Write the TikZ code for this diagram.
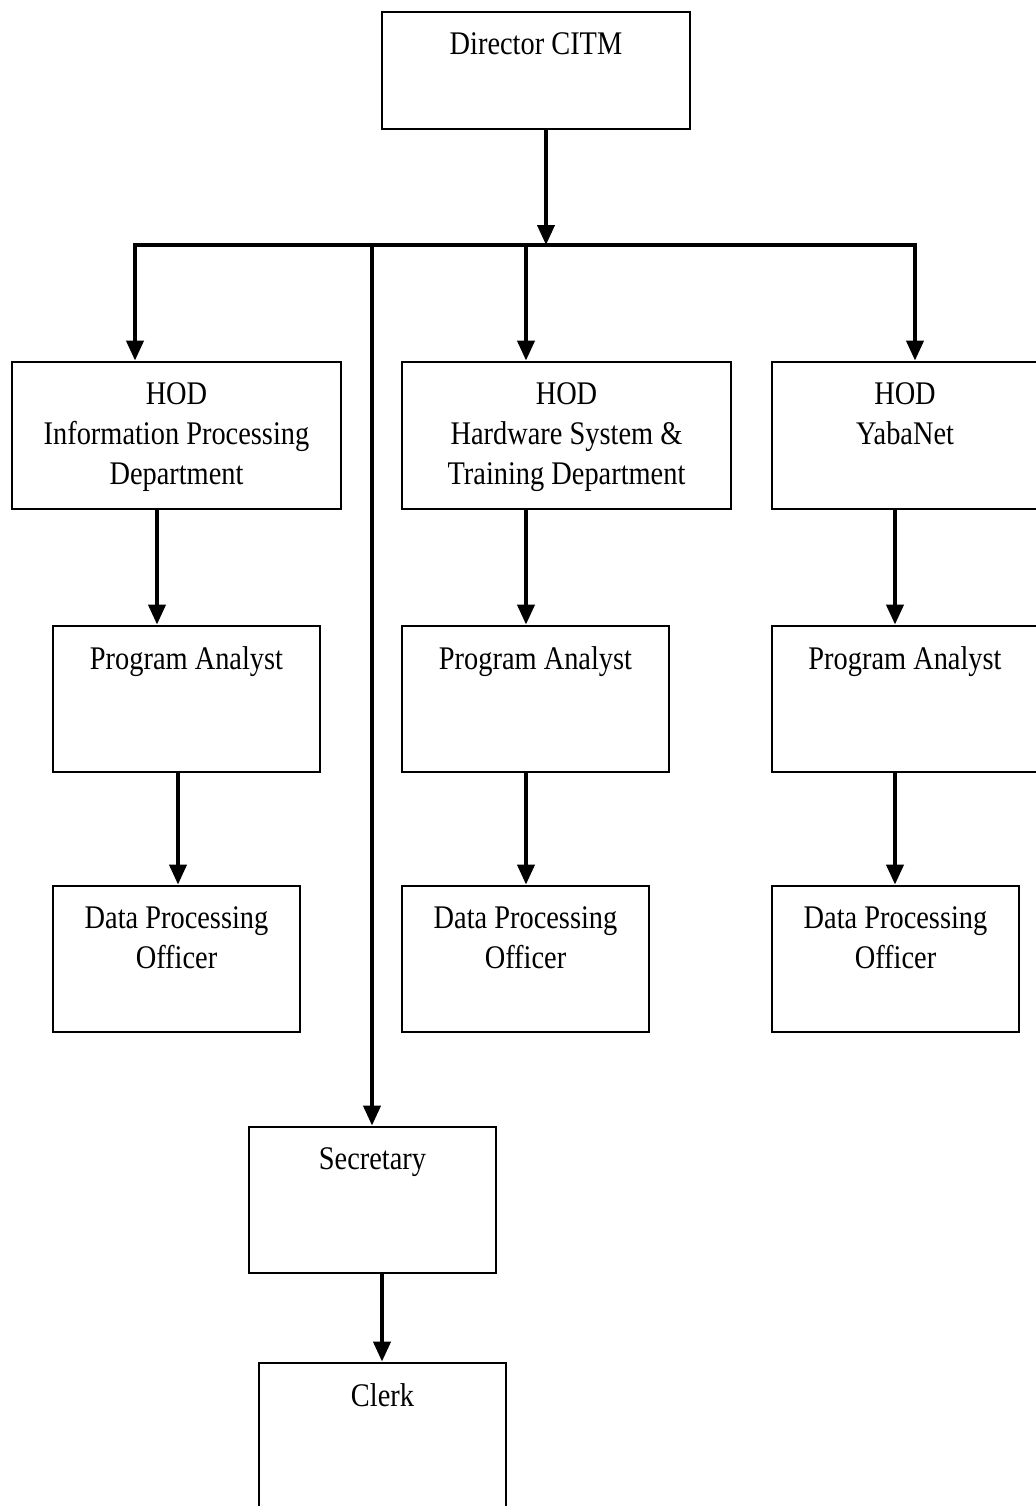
\documentclass[tikz,border=0pt]{standalone}
\usepackage{fontspec}
\setmainfont{Liberation Serif}[FakeStretch=0.86]
\usetikzlibrary{arrows.meta,fit}
\begin{document}
\begin{tikzpicture}[x=0.5pt,y=-0.5pt,
  box/.style={draw, line width=1.4pt, inner sep=0pt},
  lbl/.style={anchor=north, inner sep=0pt, align=center,
              font=\fontsize{16.5}{20}\selectfont},
  link/.style={line width=2pt, line cap=rect},
  arr/.style={line width=2pt, -{Triangle[length=10pt,width=8.5pt]}}]
\useasboundingbox (0,0) rectangle (1036,1506);
\clip (0,0) rectangle (1036,1506);

% boxes
\node[box, fit={(382,12) (690,129)}] (dir) {};
\node[box, fit={(12,362) (341,509)}] (ipd) {};
\node[box, fit={(402,362) (731,509)}] (hst) {};
\node[box, fit={(772,362) (1038,509)}] (yab) {};
\node[box, fit={(53,626) (320,772)}] (pa1) {};
\node[box, fit={(402,626) (669,772)}] (pa2) {};
\node[box, fit={(772,626) (1038,772)}] (pa3) {};
\node[box, fit={(53,886) (300,1032)}] (dpo1) {};
\node[box, fit={(402,886) (649,1032)}] (dpo2) {};
\node[box, fit={(772,886) (1019,1032)}] (dpo3) {};
\node[box, fit={(249,1127) (496,1273)}] (sec) {};
\node[box, fit={(259,1363) (506,1530)}] (clk) {};

% titles at the top of each box
\node[lbl] (dirT) at ([yshift=-11pt]dir.north) {Director CITM};
\node[lbl] (ipdT) at ([yshift=-11pt]ipd.north) {HOD\\Information Processing\\Department};
\node[lbl] (hstT) at ([yshift=-11pt]hst.north) {HOD\\Hardware System \&\\Training Department};
\node[lbl] (yabT) at ([yshift=-11pt]yab.north) {HOD\\YabaNet};
\node[lbl] (pa1T) at ([yshift=-11pt]pa1.north) {Program Analyst};
\node[lbl] (pa2T) at ([yshift=-11pt]pa2.north) {Program Analyst};
\node[lbl] (pa3T) at ([yshift=-11pt]pa3.north) {Program Analyst};
\node[lbl] (dpo1T) at ([yshift=-11pt]dpo1.north) {Data Processing\\Officer};
\node[lbl] (dpo2T) at ([yshift=-11pt]dpo2.north) {Data Processing\\Officer};
\node[lbl] (dpo3T) at ([yshift=-11pt]dpo3.north) {Data Processing\\Officer};
\node[lbl] (secT) at ([yshift=-11pt]sec.north) {Secretary};
\node[lbl] (clkT) at ([yshift=-11pt]clk.north) {Clerk};

% junctions on the distribution bus and column guides
\coordinate (jD) at (546,245);
\coordinate (jL) at (135,245);
\coordinate (jM) at (526,245);
\coordinate (jR) at (915,245);
\coordinate (jS) at (372,245);
\coordinate (c1) at (157,0);
\coordinate (c1b) at (178,0);
\coordinate (c2) at (526,0);
\coordinate (c3) at (895,0);
\coordinate (c4) at (382,0);

% connectors
\draw[link] (jL) -- (jR);
\draw[arr] (dir.south -| jD) -- (jD);
\draw[arr] (jL) -- (jL |- ipd.north);
\draw[arr] (jM) -- (jM |- hst.north);
\draw[arr] (jR) -- (jR |- yab.north);
\draw[arr] (jS) -- (jS |- sec.north);

\draw[arr] (ipd.south -| c1) -- (pa1.north -| c1);
\draw[arr] (hst.south -| c2) -- (pa2.north -| c2);
\draw[arr] (yab.south -| c3) -- (pa3.north -| c3);

\draw[arr] (pa1.south -| c1b) -- (dpo1.north -| c1b);
\draw[arr] (pa2.south -| c2) -- (dpo2.north -| c2);
\draw[arr] (pa3.south -| c3) -- (dpo3.north -| c3);

\draw[arr] (sec.south -| c4) -- (clk.north -| c4);
\end{tikzpicture}
\end{document}
